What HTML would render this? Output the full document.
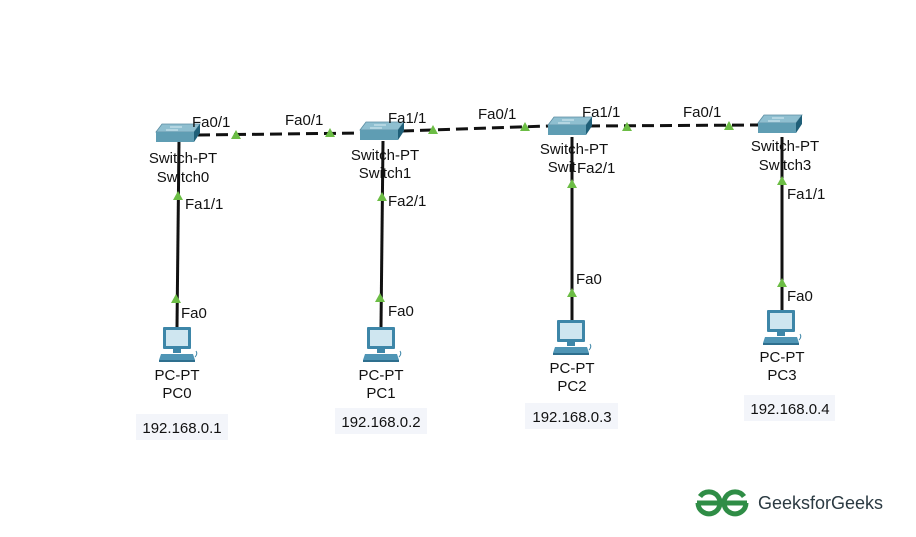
<!DOCTYPE html>
<html><head><meta charset="utf-8"><style>
html,body{margin:0;padding:0;background:#fff;}
svg{display:block;}
text{font-family:"Liberation Sans",Arial,sans-serif;font-size:15px;fill:#111;}
</style></head><body>
<svg width="916" height="537" viewBox="0 0 916 537" xmlns="http://www.w3.org/2000/svg">
<defs>
<g id="sw">
<polygon points="6,0 44,0 38,8 0,8" fill="#8fbfd0" stroke="#5c8ea3" stroke-width="0.8"/>
<line x1="14" y1="3" x2="26" y2="3" stroke="#d8ecf3" stroke-width="1"/>
<line x1="10" y1="6" x2="22" y2="6" stroke="#d8ecf3" stroke-width="1"/>
<rect x="0" y="8" width="38" height="10" fill="#5f9db3"/>
<polygon points="38,8 44,0 44,9 38,18" fill="#1f5f78"/>
</g>
<g id="pc">
<rect x="6" y="0" width="28" height="22" fill="#3d86a8" rx="1"/>
<rect x="9" y="3" width="22" height="16" fill="#cfe6f0"/>
<rect x="16" y="22" width="8" height="4" fill="#3d86a8"/>
<polygon points="4,27 36,27 38,33 2,33" fill="#4f95b5"/>
<rect x="2" y="33" width="36" height="2" fill="#2e6f8e"/>
<path d="M38,30 q3,-3 1,-6" stroke="#3d86a8" fill="none" stroke-width="1"/>
</g>
<polygon id="tri" points="0,-5 5,4 -5,4" fill="#6cbd45"/>
</defs>

<g stroke="#111" stroke-width="3" stroke-dasharray="12,6" fill="none">
<line x1="198" y1="135" x2="362" y2="133"/>
<line x1="402" y1="131" x2="548" y2="126"/>
<line x1="588" y1="126" x2="758" y2="125"/>
</g>
<g stroke="#111" stroke-width="3">
<line x1="179" y1="141" x2="177" y2="327"/>
<line x1="383" y1="141" x2="381" y2="327"/>
<line x1="572" y1="137" x2="572" y2="320"/>
<line x1="782" y1="137" x2="782" y2="311"/>
</g>
<use href="#tri" x="236" y="135"/>
<use href="#tri" x="330" y="133"/>
<use href="#tri" x="433" y="130"/>
<use href="#tri" x="525" y="127"/>
<use href="#tri" x="627" y="127"/>
<use href="#tri" x="729" y="126"/>
<use href="#tri" x="178" y="196"/>
<use href="#tri" x="176" y="299"/>
<use href="#tri" x="382" y="197"/>
<use href="#tri" x="380" y="298"/>
<use href="#tri" x="572" y="184"/>
<use href="#tri" x="572" y="293"/>
<use href="#tri" x="782" y="181"/>
<use href="#tri" x="782" y="283"/>

<use href="#sw" x="156" y="124"/>
<use href="#sw" x="360" y="122"/>
<use href="#sw" x="548" y="117"/>
<use href="#sw" x="758" y="115"/>

<use href="#pc" x="157" y="327"/>
<use href="#pc" x="361" y="327"/>
<use href="#pc" x="551" y="320"/>
<use href="#pc" x="761" y="310"/>

<g text-anchor="middle">
<text x="183" y="163">Switch-PT</text><text x="183" y="182">Switch0</text>
<text x="385" y="160">Switch-PT</text><text x="385" y="178">Switch1</text>
<text x="574" y="154">Switch-PT</text><text x="574" y="172">Switch2</text>
<text x="785" y="151">Switch-PT</text><text x="785" y="170">Switch3</text>
</g>
<rect x="576" y="158" width="44" height="18" fill="#fff"/>

<text x="192" y="127">Fa0/1</text>
<text x="285" y="125">Fa0/1</text>
<text x="388" y="123">Fa1/1</text>
<text x="478" y="119">Fa0/1</text>
<text x="582" y="117">Fa1/1</text>
<text x="683" y="117">Fa0/1</text>
<text x="185" y="209">Fa1/1</text>
<text x="388" y="206">Fa2/1</text>
<text x="577" y="173">Fa2/1</text>
<text x="787" y="199">Fa1/1</text>
<text x="181" y="318">Fa0</text>
<text x="388" y="316">Fa0</text>
<text x="576" y="284">Fa0</text>
<text x="787" y="301">Fa0</text>

<g text-anchor="middle">
<text x="177" y="380">PC-PT</text><text x="177" y="398">PC0</text>
<text x="381" y="380">PC-PT</text><text x="381" y="398">PC1</text>
<text x="572" y="373">PC-PT</text><text x="572" y="391">PC2</text>
<text x="782" y="362">PC-PT</text><text x="782" y="380">PC3</text>
</g>
<rect x="136" y="414" width="92" height="26" fill="#f3f5fa"/>
<rect x="335" y="408" width="92" height="26" fill="#f3f5fa"/>
<rect x="525" y="403" width="93" height="26" fill="#f3f5fa"/>
<rect x="744" y="395" width="91" height="26" fill="#f3f5fa"/>
<g text-anchor="middle">
<text x="182" y="433">192.168.0.1</text>
<text x="381" y="427">192.168.0.2</text>
<text x="572" y="422">192.168.0.3</text>
<text x="790" y="414">192.168.0.4</text>
</g>

<g fill="none" stroke="#2f8d46" stroke-width="5">
<path d="M700,496.5 A11,11 0 1 1 698,503"/>
<line x1="697" y1="503" x2="721" y2="503"/>
<path d="M744,496.5 A11,11 0 1 0 746,503"/>
<line x1="723" y1="503" x2="747" y2="503"/>
</g>
<text x="758" y="509" style="font-size:18px;fill:#2b3a42">GeeksforGeeks</text>
</svg>
</body></html>
